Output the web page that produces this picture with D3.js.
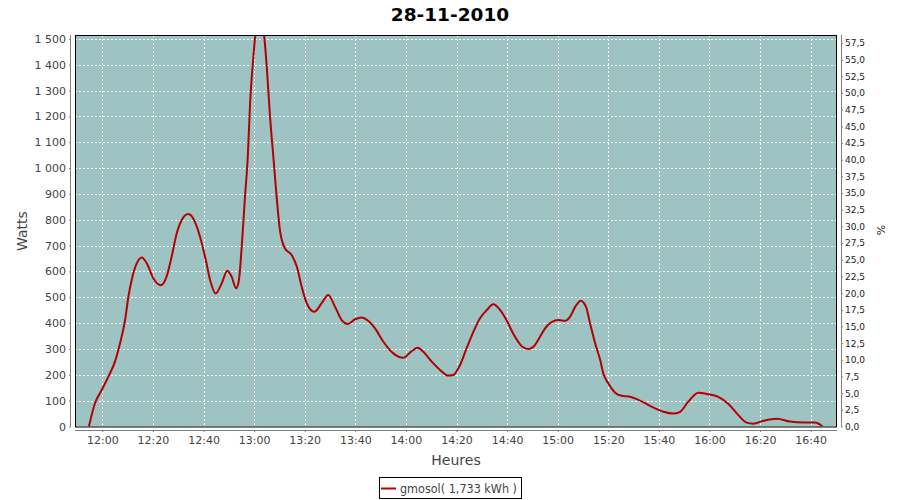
<!DOCTYPE html>
<html><head><meta charset="utf-8">
<script src="https://cdn.jsdelivr.net/npm/d3@7"></script>
<style>
html,body{margin:0;padding:0;background:#fff;}
svg{display:block;}
</style></head>
<body>
<svg id="chart" width="900" height="500"></svg>
<script>
const chartTitle = "28-11-2010";
const seriesName = "gmosol( 1,733 kWh )";
const times = ["11:54:42","11:57:06","11:59:46","12:02:24","12:05:00","12:07:00","12:09:00","12:10:18","12:11:36","12:13:36",
"12:15:36","12:17:36","12:20:12","12:23:12","12:25:24","12:27:24","12:29:24","12:31:24","12:34:00","12:36:36",
"12:39:00","12:40:54","12:42:36","12:44:48","12:47:12","12:49:24","12:51:06","12:52:54","12:54:00","12:55:06",
"12:56:24","12:57:30","12:58:24","12:59:30","13:00:24","13:02:12","13:04:00","13:05:00","13:06:18","13:07:36",
"13:08:54","13:10:12","13:12:12","13:14:54","13:16:54","13:18:48","13:20:48","13:23:48","13:26:42","13:29:18",
"13:32:00","13:34:36","13:37:00","13:39:54","13:42:30","13:45:18","13:47:48","13:51:06","13:55:00","13:59:00",
"14:01:36","14:04:42","14:06:54","14:10:12","14:13:30","14:16:48","14:18:42","14:21:24","14:24:00","14:26:42",
"14:29:18","14:32:00","14:34:36","14:37:12","14:39:54","14:42:30","14:45:48","14:48:24","14:50:24","14:53:00",
"14:55:00","14:57:42","15:00:18","15:03:00","15:04:54","15:06:54","15:09:06","15:11:12","15:12:48","15:14:48",
"15:16:48","15:18:06","15:20:00","15:22:42","15:25:18","15:28:36","15:31:18","15:35:12","15:38:30","15:41:48",
"15:45:42","15:48:24","15:51:36","15:55:36","15:58:54","16:03:30","16:07:30","16:10:48","16:14:42","16:17:18",
"16:21:18","16:26:36","16:31:48","16:37:06","16:41:42","16:44:18","16:44:42"];
const watts = [0,90,141,193,251,322,412,502,567,631,
654,631,573,547,580,657,747,799,822,792,
721,644,567,515,554,603,580,535,567,696,
889,1044,1250,1405,1508,1600,1508,1392,1198,1044,
889,760,689,663,618,541,477,444,477,509,
463,412,397,415,422,407,380,328,283,266,
286,305,289,251,219,197,199,238,303,367,
419,451,473,451,409,358,311,300,309,347,
380,405,412,409,425,463,487,463,399,322,
257,203,167,131,119,115,106,87,70,57,
50,57,96,131,126,115,87,51,15,11,
22,30,19,15,15,3,0];
const xDomain = ["11:49:12","16:50:24"];
const yDomain = [0, 1515];
const pctDomain = [0, 58.7];
const yTickValues = [0,100,200,300,400,500,600,700,800,900,1000,1100,1200,1300,1400,1500];
const pctTickValues = [0,2.5,5,7.5,10,12.5,15,17.5,20,22.5,25,27.5,30,32.5,35,37.5,40,42.5,45,47.5,50,52.5,55,57.5];

const parse = d3.timeParse("%H:%M:%S");
const data = times.map((t,i)=>({t:parse(t), v:watts[i]}));

const svg = d3.select("#chart");
const L=75, R=837, T=35, B=426.5;
const x = d3.scaleTime().domain(xDomain.map(parse)).range([L,R]);
const y = d3.scaleLinear().domain(yDomain).range([B,T]);
const yp = d3.scaleLinear().domain(pctDomain).range([B,T]);

const font = "'DejaVu Sans', sans-serif";
// title
svg.append("text").attr("x",450).attr("y",21).attr("text-anchor","middle")
  .attr("font-family",font).attr("font-weight","bold").attr("font-size",18.5).attr("fill","#000").text(chartTitle);

// plot background
svg.append("rect").attr("x",L).attr("y",T).attr("width",R-L).attr("height",B-T).attr("fill","#9dc3c2");

const xTicks = d3.timeMinute.every(20).range(parse("11:50:00"), parse("16:50:00")).filter(d=>d>=x.domain()[0]);
// grid
const grid = svg.append("g").attr("stroke","#fff").attr("stroke-width",1).attr("stroke-dasharray","2,2");
xTicks.forEach(d=>{ const px=Math.round(x(d))+0.5; grid.append("line").attr("x1",px).attr("x2",px).attr("y1",T).attr("y2",B); });
yTickValues.slice(1).forEach(v=>{ const py=Math.round(y(v))+0.5; grid.append("line").attr("x1",L).attr("x2",R).attr("y1",py).attr("y2",py); });

// line
svg.append("clipPath").attr("id","clip").append("rect").attr("x",L).attr("y",T).attr("width",R-L).attr("height",B-T);
const line = d3.line().x(d=>x(d.t)).y(d=>y(d.v)).curve(d3.curveMonotoneX);
svg.append("path").datum(data).attr("clip-path","url(#clip)").attr("d",line)
  .attr("fill","none").attr("stroke","#b40000").attr("stroke-width",2);

// plot border
svg.append("rect").attr("x",L+0.5).attr("y",T+0.5).attr("width",R-L-1).attr("height",B-T).attr("fill","none").attr("stroke","#000").attr("stroke-width",1);

// axes
const axisColor="#808080", tickText="#444";
const gx = svg.append("g").attr("transform",`translate(0,${430})`)
  .call(d3.axisBottom(x).tickValues(xTicks).tickFormat(d3.timeFormat("%H:%M")).tickSize(2).tickPadding(4));
const gy = svg.append("g").attr("transform",`translate(71,0)`)
  .call(d3.axisLeft(y).tickValues(yTickValues).tickFormat(v=>d3.format(",")(v).replace(/,/g," ")).tickSize(2).tickPadding(3));
const gr = svg.append("g").attr("transform",`translate(841,0)`)
  .call(d3.axisRight(yp).tickValues(pctTickValues).tickFormat(v=>d3.format(".1f")(v).replace(".",",")).tickSize(2).tickPadding(2));
[gx,gy,gr].forEach(g=>{
  g.select(".domain").attr("stroke",axisColor);
  g.selectAll(".tick line").attr("stroke",axisColor);
});
gx.selectAll("text").attr("font-family",font).attr("font-size",11).attr("fill",tickText);
gy.selectAll("text").attr("font-family",font).attr("font-size",11).attr("fill",tickText);
gr.selectAll("text").attr("font-family",font).attr("font-size",9).attr("fill","#222");
gx.select(".domain").attr("d",`M${L},0.5H${R}`);
gy.select(".domain").attr("d",`M-0.5,${T}V${B}`);
gr.select(".domain").attr("d",`M0.5,${T}V${B}`);

// axis labels
svg.append("text").attr("x",456).attr("y",465).attr("text-anchor","middle")
  .attr("font-family",font).attr("font-size",14).attr("fill","#444").text("Heures");
svg.append("text").attr("transform","translate(27,231) rotate(-90)").attr("text-anchor","middle")
  .attr("font-family",font).attr("font-size",14).attr("fill","#444").text("Watts");
svg.append("text").attr("transform","translate(885,230) rotate(-90)").attr("text-anchor","middle")
  .attr("font-family",font).attr("font-size",11).attr("fill","#222").text("%");

// legend
const lg = svg.append("g");
lg.append("rect").attr("x",379.5).attr("y",477.5).attr("width",142).attr("height",21).attr("fill","#fff").attr("stroke","#000");
lg.append("line").attr("x1",381).attr("x2",396).attr("y1",488.5).attr("y2",488.5).attr("stroke","#b40000").attr("stroke-width",2);
lg.append("text").attr("x",400).attr("y",493).attr("font-family",font).attr("font-size",11.5)
  .attr("textLength",117).attr("lengthAdjust","spacingAndGlyphs").attr("fill","#444").text(seriesName);
</script>
</body></html>
